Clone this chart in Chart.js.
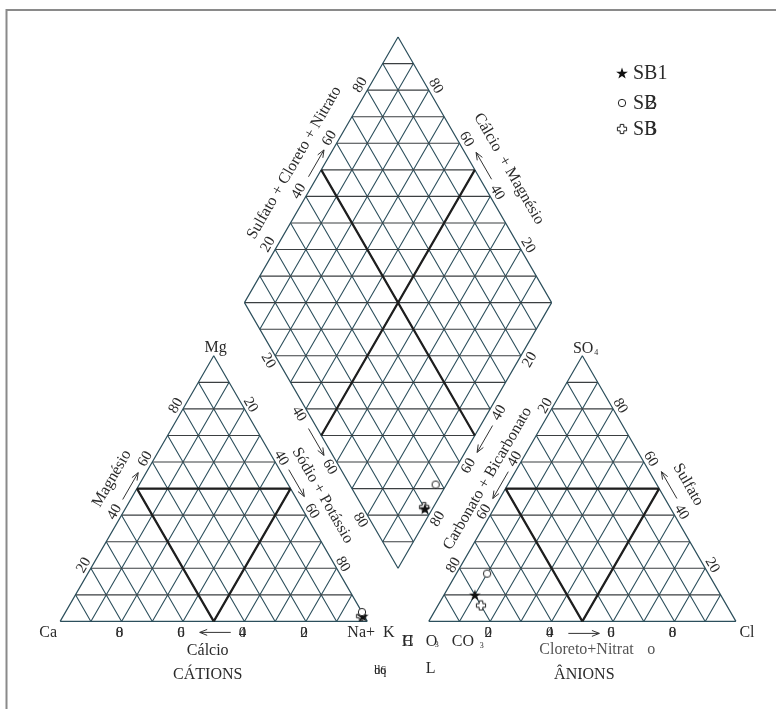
<!DOCTYPE html>
<html>
<head>
<meta charset="utf-8">
<script src="https://cdn.jsdelivr.net/npm/chart.js@4.4.1/dist/chart.umd.min.js"></script>
<style>
  html, body { margin: 0; padding: 0; background: #fff; }
  canvas { display: block; }
</style>
</head>
<body>
<canvas id="piper" width="776" height="709"></canvas>
<script>
// ---- Sample composition (% of meq) ----
const samples       = ['SB1', 'SB2', 'SB3'];
const calcio        = [0.5, 0, 1];
const magnesio      = [2, 3.5, 2];
const sodioPotassio = [97.5, 96.5, 97];
const bicarbonato   = [80, 72, 80];
const sulfato       = [10, 18, 6];
const cloreto       = [10, 10, 14];

// ---- Grid and tick values (%) ----
const gridPercents = [10, 20, 30, 40, 50, 60, 70, 80, 90];
const tickPercents = [20, 40, 60, 80];
const diamondRows  = [10, 20, 30, 40, 50, 60, 70, 80, 90, 100, 110, 120, 130, 140, 150, 160, 170, 180, 190];

// ---- Geometry in axis units (triangle side = 100) ----
const H = Math.sqrt(3) / 2 * 100;
const GAP = 20;
const AN_X = 100 + GAP;
function tri(x0, left, right, top) {
  return { x: x0 + right * 100 + top * 50, y: top * H };
}
const cat = (ca, na, mg) => tri(0, ca, na, mg);
const an  = (hco3, cl, so4) => tri(AN_X, hco3, cl, so4);
// diamond: n = Na+K fraction, c = CO3+HCO3 fraction
const dia = (n, c) => ({ x: 110 + 50 * n - 50 * c, y: (2.2 - n - c) * H });

// ---- Segment builders ----
function triGrid(fn, list) {
  const hor = [], sl = [];
  list.forEach(p => {
    hor.push([fn(1 - p, 0, p), fn(0, 1 - p, p)]);
    sl.push([fn(p, 1 - p, 0), fn(p, 0, 1 - p)]);
    sl.push([fn(1 - p, p, 0), fn(0, p, 1 - p)]);
  });
  return { hor, sl };
}
function triEdges(fn) {
  return [[fn(1, 0, 0), fn(0, 1, 0)], [fn(0, 1, 0), fn(0, 0, 1)], [fn(0, 0, 1), fn(1, 0, 0)]];
}
function diaGrid(list) {
  const sl = [];
  list.forEach(p => { sl.push([dia(p, 0), dia(p, 1)]); sl.push([dia(0, p), dia(1, p)]); });
  return sl;
}
function diaRows(list) {
  return list.map(s => {
    const f = s / 100;
    const n0 = Math.max(0, f - 1), n1 = Math.min(1, f);
    return [dia(n0, f - n0), dia(n1, f - n1)];
  });
}
function toPath(segs) {
  const out = [];
  segs.forEach(s => { out.push(s[0], s[1], { x: s[1].x, y: null }); });
  return out;
}

const fr = gridPercents.map(v => v / 100);
const gCat = triGrid(cat, fr), gAn = triGrid(an, fr);
const slanted = [...gCat.sl, ...gAn.sl, ...diaGrid(fr)];
const horizontal = [...gCat.hor, ...gAn.hor, ...diaRows(diamondRows)];
const edges = [...triEdges(cat), ...triEdges(an),
  [dia(0, 0), dia(1, 0)], [dia(1, 0), dia(1, 1)], [dia(1, 1), dia(0, 1)], [dia(0, 1), dia(0, 0)]];
const thick = [...triGrid(cat, [0.5]).hor, ...triGrid(cat, [0.5]).sl,
               ...triGrid(an, [0.5]).hor, ...triGrid(an, [0.5]).sl,
               [dia(0.5, 0), dia(0.5, 1)], [dia(0, 0.5), dia(1, 0.5)]];

// ---- Marker glyphs ----
function starImg() {
  const c = document.createElement('canvas'); c.width = c.height = 14;
  const g = c.getContext('2d');
  g.beginPath();
  for (let i = 0; i < 10; i++) {
    const r = i % 2 ? 2.4 : 6.2, a = -Math.PI / 2 + i * Math.PI / 5;
    const x = 7 + r * Math.cos(a), y = 7.6 + r * Math.sin(a);
    i ? g.lineTo(x, y) : g.moveTo(x, y);
  }
  g.closePath(); g.fillStyle = '#111'; g.fill();
  return c;
}
function ringImg() {
  const c = document.createElement('canvas'); c.width = c.height = 10;
  const g = c.getContext('2d');
  g.beginPath(); g.arc(5, 5, 3.7, 0, Math.PI * 2);
  g.fillStyle = '#fff'; g.fill(); g.strokeStyle = '#222'; g.lineWidth = 1; g.stroke();
  return c;
}
function crossImg() {
  const c = document.createElement('canvas'); c.width = c.height = 12;
  const g = c.getContext('2d');
  const m = 6, w = 1.8, l = 4.6;
  const pts = [[m-w,m-l],[m+w,m-l],[m+w,m-w],[m+l,m-w],[m+l,m+w],[m+w,m+w],[m+w,m+l],[m-w,m+l],[m-w,m+w],[m-l,m+w],[m-l,m-w],[m-w,m-w]];
  g.beginPath(); pts.forEach((p, i) => i ? g.lineTo(p[0], p[1]) : g.moveTo(p[0], p[1])); g.closePath();
  g.fillStyle = '#fff'; g.fill(); g.strokeStyle = '#222'; g.lineWidth = 1; g.stroke();
  return c;
}
const markerImgs = [starImg(), ringImg(), crossImg()];
const markerOrder = [1, 0, 2];

function samplePoints(i) {
  const ca = calcio[i] / 100, mg = magnesio[i] / 100, na = sodioPotassio[i] / 100;
  const hc = bicarbonato[i] / 100, so = sulfato[i] / 100, cl = cloreto[i] / 100;
  return [cat(ca, na, mg), an(hc, cl, so), dia(na, hc)];
}

// ---- Axis frame: 1 unit = 3.12 px, Ca corner at (55, 626) ----
const UNIT = 3.12, OX = 55, OY = 626, W = 776, HGT = 709;

const lineSet = (data, color, width, order) => ({
  data: toPath(data), showLine: true, borderColor: color, borderWidth: width,
  pointRadius: 0, fill: false, spanGaps: false, tension: 0, order
});

const datasets = [
  lineSet(slanted, '#2c4f5c', 1.1, 9),
  lineSet(horizontal, '#3b3f41', 1.1, 8),
  lineSet(edges, '#2c4f5c', 1.2, 7),
  lineSet(thick, '#1e1e1e', 2.2, 6),
  ...samples.map((name, i) => ({
    label: name, data: samplePoints(i), showLine: false,
    pointStyle: markerImgs[i], pointRadius: 5, order: markerOrder[i]
  }))
];

const INK = '#2a2a2a';
const FONT = '"Liberation Serif", "Times New Roman", serif';
function text(ctx, str, x, y, o = {}) {
  ctx.save();
  ctx.translate(x, y);
  if (o.rot) ctx.rotate(o.rot * Math.PI / 180);
  ctx.font = `${o.size || 15}px ${FONT}`;
  ctx.fillStyle = o.color || INK;
  ctx.textAlign = o.align || 'center';
  ctx.textBaseline = o.base || 'alphabetic';
  ctx.fillText(str, 0, 0);
  ctx.restore();
}
function arrow(ctx, cx, cy, angDeg, len) {
  const a = angDeg * Math.PI / 180, dx = Math.cos(a), dy = Math.sin(a);
  const x1 = cx - dx * len / 2, y1 = cy - dy * len / 2, x2 = cx + dx * len / 2, y2 = cy + dy * len / 2;
  ctx.save();
  ctx.strokeStyle = '#333'; ctx.lineWidth = 1;
  ctx.beginPath(); ctx.moveTo(x1, y1); ctx.lineTo(x2, y2);
  const h = 8, s = 0.38;
  ctx.moveTo(x2 - h * Math.cos(a - s), y2 - h * Math.sin(a - s)); ctx.lineTo(x2, y2);
  ctx.lineTo(x2 - h * Math.cos(a + s), y2 - h * Math.sin(a + s));
  ctx.stroke(); ctx.restore();
}

// rotated tick labels along the edges
const edgeTicks = [
  { fn: v => cat(1 - v, 0, v), dx: -7, dy: -3, rot: -60 },
  { fn: v => cat(0, v, 1 - v), dx: 6, dy: -4, rot: 60 },
  { fn: v => an(0, 1 - v, v), dx: 7, dy: -3, rot: 60 },
  { fn: v => an(v, 0, 1 - v), dx: -6, dy: -3, rot: -60 },
  { fn: v => dia(0, 1 - v), dx: -7, dy: -5, rot: -60 },
  { fn: v => dia(1 - v, 0), dx: 7, dy: -4, rot: 60 },
  { fn: v => dia(v, 1), dx: -7, dy: 5, rot: 60 },
  { fn: v => dia(1, v), dx: 9, dy: 4, rot: -60 }
];
const baseTicks = [v => cat(v, 1 - v, 0), v => an(1 - v, v, 0)];

const textPlugin = {
  id: 'piperText',
  beforeDraw(chart) {
    const ctx = chart.ctx;
    ctx.save();
    ctx.fillStyle = '#fff'; ctx.fillRect(0, 0, chart.width, chart.height);
    ctx.strokeStyle = '#8a8a8a'; ctx.lineWidth = 2;
    ctx.beginPath(); ctx.moveTo(6.5, HGT); ctx.lineTo(6.5, 10); ctx.lineTo(W, 10); ctx.stroke();
    ctx.restore();
  },
  afterDatasetsDraw(chart) {
    const ctx = chart.ctx, xs = chart.scales.x, ys = chart.scales.y;
    const P = p => [xs.getPixelForValue(p.x), ys.getPixelForValue(p.y)];

    // edge ticks
    edgeTicks.forEach(t => tickPercents.forEach(v => {
      const [x, y] = P(t.fn(v / 100));
      text(ctx, String(v), x + t.dx, y + t.dy, { rot: t.rot, base: 'middle' });
    }));
    // base ticks (digits set on top of each other)
    baseTicks.forEach(fn => tickPercents.forEach(v => {
      const [x, y] = P(fn(v / 100));
      String(v).split('').forEach(ch => text(ctx, ch, x - 2, y + 16));
    }));

    // corners
    let [x, y] = P(cat(0, 0, 1));
    text(ctx, 'Mg', x + 2, y - 4, { size: 16 });
    [x, y] = P(cat(1, 0, 0));
    text(ctx, 'Ca', x - 12, y + 16, { size: 16 });
    [x, y] = P(cat(0, 1, 0));
    text(ctx, 'Na+  K', x - 20, y + 16, { size: 16, align: 'left' });
    text(ctx, 'bq', x + 7, y + 53, { size: 12, align: 'left' });
    text(ctx, 'd6', x + 7, y + 53, { size: 12, align: 'left' });
    [x, y] = P(an(0, 0, 1));
    text(ctx, 'SO', x + 11, y - 3, { size: 16, align: 'right' });
    text(ctx, '4', x + 12, y - 1, { size: 8, align: 'left' });
    [x, y] = P(an(0, 1, 0));
    text(ctx, 'Cl', x + 11, y + 16, { size: 16 });
    [x, y] = P(an(1, 0, 0));
    text(ctx, 'H', x - 27, y + 25, { size: 16, align: 'left' });
    text(ctx, 'C', x - 26, y + 25, { size: 16, align: 'left' });
    text(ctx, 'O', x - 3, y + 25, { size: 16, align: 'left' });
    text(ctx, '3', x + 6, y + 26, { size: 8, align: 'left' });
    text(ctx, 'CO', x + 23, y + 25, { size: 16, align: 'left' });
    text(ctx, '3', x + 51, y + 27, { size: 8, align: 'left' });
    text(ctx, 'L', x - 3, y + 52, { size: 16, align: 'left' });

    // bottom titles
    [x, y] = P(cat(0.5, 0.5, 0));
    arrow(ctx, x + 1.5, y + 11, 180, 31);
    text(ctx, 'Cálcio', x - 6, y + 34, { size: 16 });
    text(ctx, 'CÁTIONS', x - 6, y + 58, { size: 16 });
    [x, y] = P(an(0.5, 0.5, 0));
    arrow(ctx, x + 1.5, y + 12, 0, 31);
    text(ctx, 'Cloreto+Nitrat', x - 43, y + 33, { size: 16, align: 'left', color: '#555' });
    text(ctx, 'o', x + 65, y + 33, { size: 16, align: 'left', color: '#555' });
    text(ctx, 'ÂNIONS', x + 2, y + 58, { size: 16 });

    // rotated side titles with arrows
    [x, y] = P(cat(0.5, 0, 0.5));
    text(ctx, 'Magnésio', x - 25, y - 10, { size: 16, rot: -60, base: 'middle' });
    arrow(ctx, x - 6.5, y - 2.5, -60, 31);
    [x, y] = P(cat(0, 0.5, 0.5));
    text(ctx, 'Sódio + Potássio', x + 32, y + 7, { size: 16, rot: 60, base: 'middle' });
    arrow(ctx, x + 6, y - 5.5, 60, 31);
    [x, y] = P(an(0.5, 0, 0.5));
    text(ctx, 'Carbonato + Bicarbonato', x - 18, y - 10, { size: 16, rot: -60, base: 'middle' });
    arrow(ctx, x - 5, y - 3.5, 120, 31);
    [x, y] = P(an(0, 0.5, 0.5));
    text(ctx, 'Sulfato', x + 29, y - 4, { size: 16, rot: 60, base: 'middle' });
    arrow(ctx, x + 10, y - 3.5, -120, 31);
    [x, y] = P(dia(0, 0.5));
    text(ctx, 'Sulfato + Cloreto + Nitrato', x - 27, y - 7, { size: 16, rot: -60, base: 'middle' });
    arrow(ctx, x - 5, y - 6.5, -60, 31);
    [x, y] = P(dia(0.5, 0));
    text(ctx, 'Cálcio  + Magnésio', x + 34, y - 1, { size: 16, rot: 60, base: 'middle' });
    arrow(ctx, x + 9, y - 4, -120, 31);
    [x, y] = P(dia(0.5, 1));
    arrow(ctx, x - 5, y + 6.5, 60, 31);
    [x, y] = P(dia(1, 0.5));
    arrow(ctx, x + 10, y + 3.5, 120, 31);

    // legend
    const lx = 622, ly = [73, 103, 129];
    samples.forEach((name, i) => {
      const img = markerImgs[i];
      ctx.drawImage(img, lx - img.width / 2, ly[i] - img.height / 2);
      const base = ly[i] + 6;
      if (i === 0) {
        text(ctx, name, 633, base, { size: 20, align: 'left' });
      } else {
        text(ctx, 'SB', 633, base, { size: 20, align: 'left' });
        text(ctx, name.slice(2), 646, base, { size: 20, align: 'left' });
      }
    });
  }
};

new Chart(document.getElementById('piper'), {
  type: 'scatter',
  data: { datasets },
  options: {
    responsive: false,
    animation: false,
    devicePixelRatio: 1,
    events: [],
    layout: { padding: 0 },
    scales: {
      x: { type: 'linear', display: false, min: -OX / UNIT, max: (W - OX) / UNIT },
      y: { type: 'linear', display: false, min: -(HGT - OY) / UNIT, max: OY / UNIT }
    },
    plugins: { legend: { display: false }, tooltip: { enabled: false } }
  },
  plugins: [textPlugin]
});
</script>
</body>
</html>
